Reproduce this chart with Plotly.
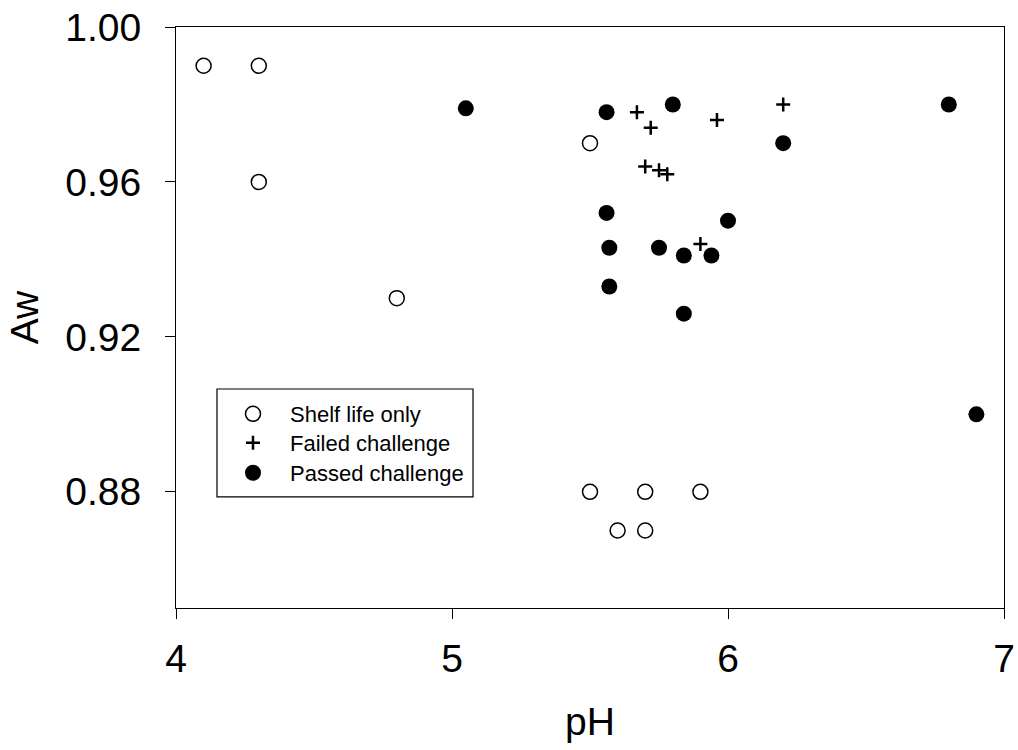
import plotly.graph_objects as go

# Shelf life only (open circles)
shelf_ph = [4.1, 4.3, 4.3, 4.8, 5.5, 5.5, 5.7, 5.9, 5.6, 5.7]
shelf_aw = [0.990, 0.990, 0.960, 0.930, 0.970, 0.880, 0.880, 0.880, 0.870, 0.870]

# Failed challenge (plus)
failed_ph = [5.67, 5.72, 5.96, 6.2, 5.70, 5.75, 5.78, 5.90]
failed_aw = [0.978, 0.974, 0.976, 0.980, 0.964, 0.963, 0.962, 0.944]

# Passed challenge (filled circles)
passed_ph = [5.05, 5.56, 5.80, 6.2, 5.56, 5.57, 5.75, 5.84, 5.94, 6.0, 5.57, 5.84, 6.8, 6.9]
passed_aw = [0.979, 0.978, 0.980, 0.970, 0.952, 0.943, 0.943, 0.941, 0.941, 0.950, 0.933, 0.926, 0.980, 0.900]

x_ticks = [4, 5, 6, 7]
y_ticks = [0.88, 0.92, 0.96, 1.00]
y_tick_text = ["0.88", "0.92", "0.96", "1.00"]

FONT = "Arial, Liberation Sans, sans-serif"
TICK_SIZE = 39

fig = go.Figure()
fig.add_trace(go.Scatter(
    x=shelf_ph, y=shelf_aw, mode="markers", name="Shelf life only", legend="legend",
    marker=dict(symbol="circle-open", size=15, color="black", line=dict(width=1.5, color="black")),
))
fig.add_trace(go.Scatter(
    x=failed_ph, y=failed_aw, mode="markers", name="Failed challenge", legend="legend2",
    marker=dict(symbol="cross-thin", size=10, color="black", line=dict(width=2.5, color="black")),
))
fig.add_trace(go.Scatter(
    x=passed_ph, y=passed_aw, mode="markers", name="Passed challenge", legend="legend3",
    marker=dict(symbol="circle", size=16, color="black", line=dict(width=0)),
))

axis_common = dict(
    showline=True, linecolor="black", linewidth=1.2, mirror=True,
    ticks="outside", ticklen=10, tickwidth=1.2, tickcolor="black",
    showgrid=False, zeroline=False, automargin=False,
    tickfont=dict(family=FONT, size=TICK_SIZE, color="black"),
)

legend_common = dict(
    x=0.0483, xanchor="left", yanchor="middle",
    borderwidth=0, bgcolor="rgba(0,0,0,0)",
    font=dict(family=FONT, size=22, color="black"),
    itemsizing="trace", itemwidth=64,
)

fig.update_layout(
    width=1018, height=750,
    paper_bgcolor="white", plot_bgcolor="white",
    margin=dict(l=176, r=14, t=27, b=142),
    font=dict(family=FONT, color="black"),
    xaxis=dict(range=[4, 7], tickvals=x_ticks, ticklabelstandoff=6,
               title=dict(text="pH", font=dict(family=FONT, size=TICK_SIZE, color="black"), standoff=28),
               **axis_common),
    yaxis=dict(range=[0.85, 1.00], tickvals=y_ticks, ticktext=y_tick_text, ticklabelstandoff=16,
               title=dict(text="Aw", font=dict(family=FONT, size=TICK_SIZE, color="black"), standoff=14),
               **axis_common),
    showlegend=True,
    legend=dict(y=0.3339, **legend_common),
    legend2=dict(y=0.2840, **legend_common),
    legend3=dict(y=0.2324, **legend_common),
    shapes=[dict(type="rect", xref="paper", yref="paper",
                 x0=0.0495, x1=0.3587, y0=0.1911, y1=0.3769,
                 line=dict(color="black", width=1.2), fillcolor="rgba(0,0,0,0)")],
)

fig.write_html("out.html",
               config={"displayModeBar": False},
               post_script="document.body.style.margin='0';document.body.style.padding='0';")
